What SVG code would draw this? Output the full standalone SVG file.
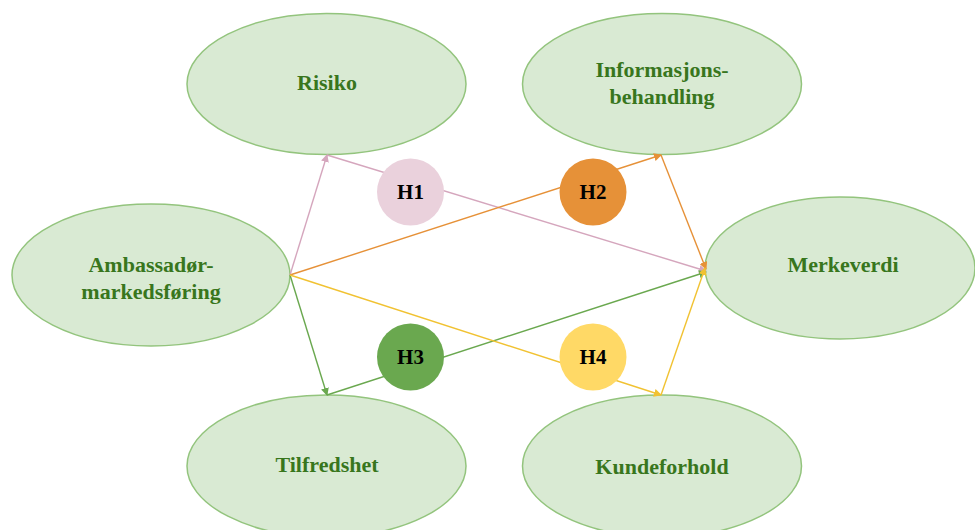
<svg xmlns="http://www.w3.org/2000/svg" width="975" height="530" viewBox="0 0 975 530">
<style>
.node ellipse{fill:#d9ead3;stroke:#93c47d;stroke-width:1.5}
.lbl{font-family:"Liberation Serif","Times New Roman",serif;font-weight:bold;font-size:22px;fill:#38761d;text-anchor:middle}
.h{font-family:"Liberation Serif","Times New Roman",serif;font-weight:bold;font-size:21px;fill:#000;text-anchor:middle}
.c{fill:none;stroke-width:1.4}
.pk{stroke:#d5a6bd}.or{stroke:#e69138}.gr{stroke:#6aa84f}.ye{stroke:#f1c232}
</style>
<defs>
<marker id="mpk" markerWidth="8" markerHeight="8" refX="7" refY="4" orient="auto" markerUnits="userSpaceOnUse"><path d="M0,0 L8,4 L0,8 Z" fill="#d5a6bd"/></marker>
<marker id="mor" markerWidth="8" markerHeight="8" refX="7" refY="4" orient="auto" markerUnits="userSpaceOnUse"><path d="M0,0 L8,4 L0,8 Z" fill="#e69138"/></marker>
<marker id="mgr" markerWidth="8" markerHeight="8" refX="7" refY="4" orient="auto" markerUnits="userSpaceOnUse"><path d="M0,0 L8,4 L0,8 Z" fill="#6aa84f"/></marker>
<marker id="mye" markerWidth="8" markerHeight="8" refX="7" refY="4" orient="auto" markerUnits="userSpaceOnUse"><path d="M0,0 L8,4 L0,8 Z" fill="#f1c232"/></marker>
</defs>
<rect width="975" height="530" fill="#ffffff"/>
<g id="n-risiko" class="node"><ellipse cx="326.5" cy="84" rx="139.5" ry="70.5"/><text class="lbl" x="327" y="90">Risiko</text></g>
<g id="n-info" class="node"><ellipse cx="662" cy="84" rx="139.5" ry="70.5"/><text class="lbl" x="662" y="77">Informasjons-</text><text class="lbl" x="662" y="104">behandling</text></g>
<g id="n-amb" class="node"><ellipse cx="151" cy="275" rx="139" ry="71"/><text class="lbl" x="151" y="272">Ambassadør-</text><text class="lbl" x="151" y="299">markedsføring</text></g>
<g id="n-merke" class="node"><ellipse cx="840" cy="268" rx="135" ry="71"/><text class="lbl" x="843" y="272">Merkeverdi</text></g>
<g id="n-tilf" class="node"><ellipse cx="326.5" cy="466" rx="139.5" ry="71"/><text class="lbl" x="327" y="472">Tilfredshet</text></g>
<g id="n-kunde" class="node"><ellipse cx="662" cy="466" rx="139.5" ry="71"/><text class="lbl" x="662" y="474">Kundeforhold</text></g>
<g id="connectors">
<line class="c pk" x1="290" y1="275" x2="327" y2="155" marker-end="url(#mpk)"/>
<line class="c pk" x1="327" y1="155" x2="706" y2="271" marker-end="url(#mpk)"/>
<line class="c or" x1="290" y1="275" x2="661" y2="155" marker-end="url(#mor)"/>
<line class="c or" x1="661" y1="155" x2="706" y2="269" marker-end="url(#mor)"/>
<line class="c gr" x1="290" y1="275" x2="327" y2="395" marker-end="url(#mgr)"/>
<line class="c gr" x1="327" y1="395" x2="706" y2="272" marker-end="url(#mgr)"/>
<line class="c ye" x1="290" y1="275" x2="661" y2="395" marker-end="url(#mye)"/>
<line class="c ye" x1="661" y1="395" x2="705" y2="268" marker-end="url(#mye)"/>
</g>
<g id="h1"><circle cx="410.5" cy="192" r="33.5" fill="#ead1dc"/><text class="h" x="410.5" y="199">H1</text></g>
<g id="h2"><circle cx="593" cy="192" r="33.5" fill="#e69138"/><text class="h" x="593" y="199">H2</text></g>
<g id="h3"><circle cx="410.5" cy="357" r="33.5" fill="#6aa84f"/><text class="h" x="410.5" y="364">H3</text></g>
<g id="h4"><circle cx="593" cy="357" r="33.5" fill="#ffd966"/><text class="h" x="593" y="364">H4</text></g>
</svg>
